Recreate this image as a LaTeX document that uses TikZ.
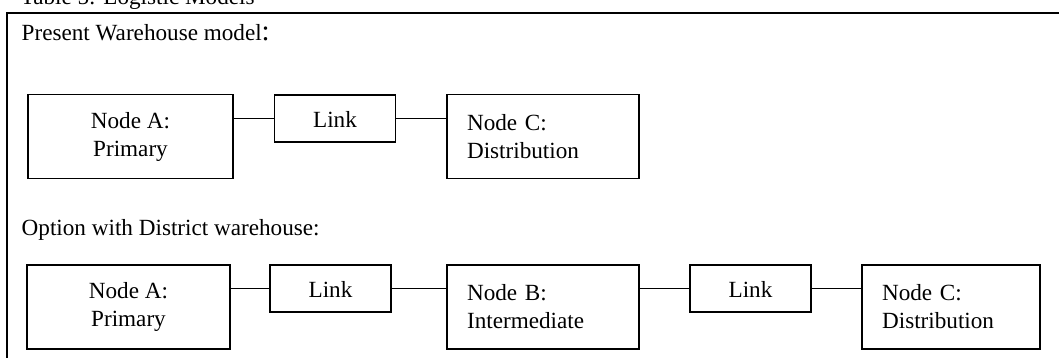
\documentclass[tikz,border=0pt]{standalone}
\usepackage{fontspec}
\setmainfont{Liberation Serif}
\usepackage{tikz}

\tikzset{
  sitebox/.style={draw, minimum height=43.5pt, inner sep=0pt, align=center},
  sitebox left/.style={sitebox, align=left, inner xsep=10.4pt, text width=#1},
  linkbox/.style={draw, minimum width=62.7pt, minimum height=24.3pt, inner sep=0pt,
    text height=9.8pt},
  heading/.style={anchor=base west, inner sep=0pt}
}

\begin{document}
\begin{tikzpicture}[x=0.518pt, y=-0.518pt, line width=0.75pt,
  font=\fontsize{12}{14.5}\selectfont]
  \useasboundingbox (0,0) rectangle (1059,358);

  \draw[line width=1.1pt] (1075,13) -- (7,13) -- (7,375);
  \node[heading] (caption) at (20,5) {Table 5: Logistic Models};

  % present model
  \node[heading] (present) at (21,41) {Present Warehouse model{\fontsize{15}{15}\selectfont :}};
  \node[sitebox, minimum width=106.2pt] (A1) at (130.5,136.5) {Node A:\\Primary};
  \node[linkbox] (L1) at (335,118.5) {Link};
  \node[sitebox left=78.7pt] (C1) at (543,136.5) {Node C:\\Distribution};

  \draw (A1.east |- L1.west) -- (L1.west);
  \draw (L1.east) -- (L1.east -| C1.west);

  % option with district warehouse
  \node[heading] (option) at (21,236) {Option with District warehouse:};
  \node[sitebox, minimum width=105.2pt] (A2) at (128.5,307) {Node A:\\Primary};
  \node[linkbox] (L2) at (330.5,288.5) {Link};
  \node[sitebox left=78.7pt] (B2) at (543,307) {Node B:\\Intermediate};
  \node[linkbox] (L3) at (750.5,288.5) {Link};
  \node[sitebox left=71.4pt] (C2) at (951,307) {Node C:\\Distribution};

  \draw (A2.east |- L2.west) -- (L2.west);
  \draw (L2.east) -- (L2.east -| B2.west);
  \draw (B2.east |- L3.west) -- (L3.west);
  \draw (L3.east) -- (L3.east -| C2.west);
\end{tikzpicture}
\end{document}
